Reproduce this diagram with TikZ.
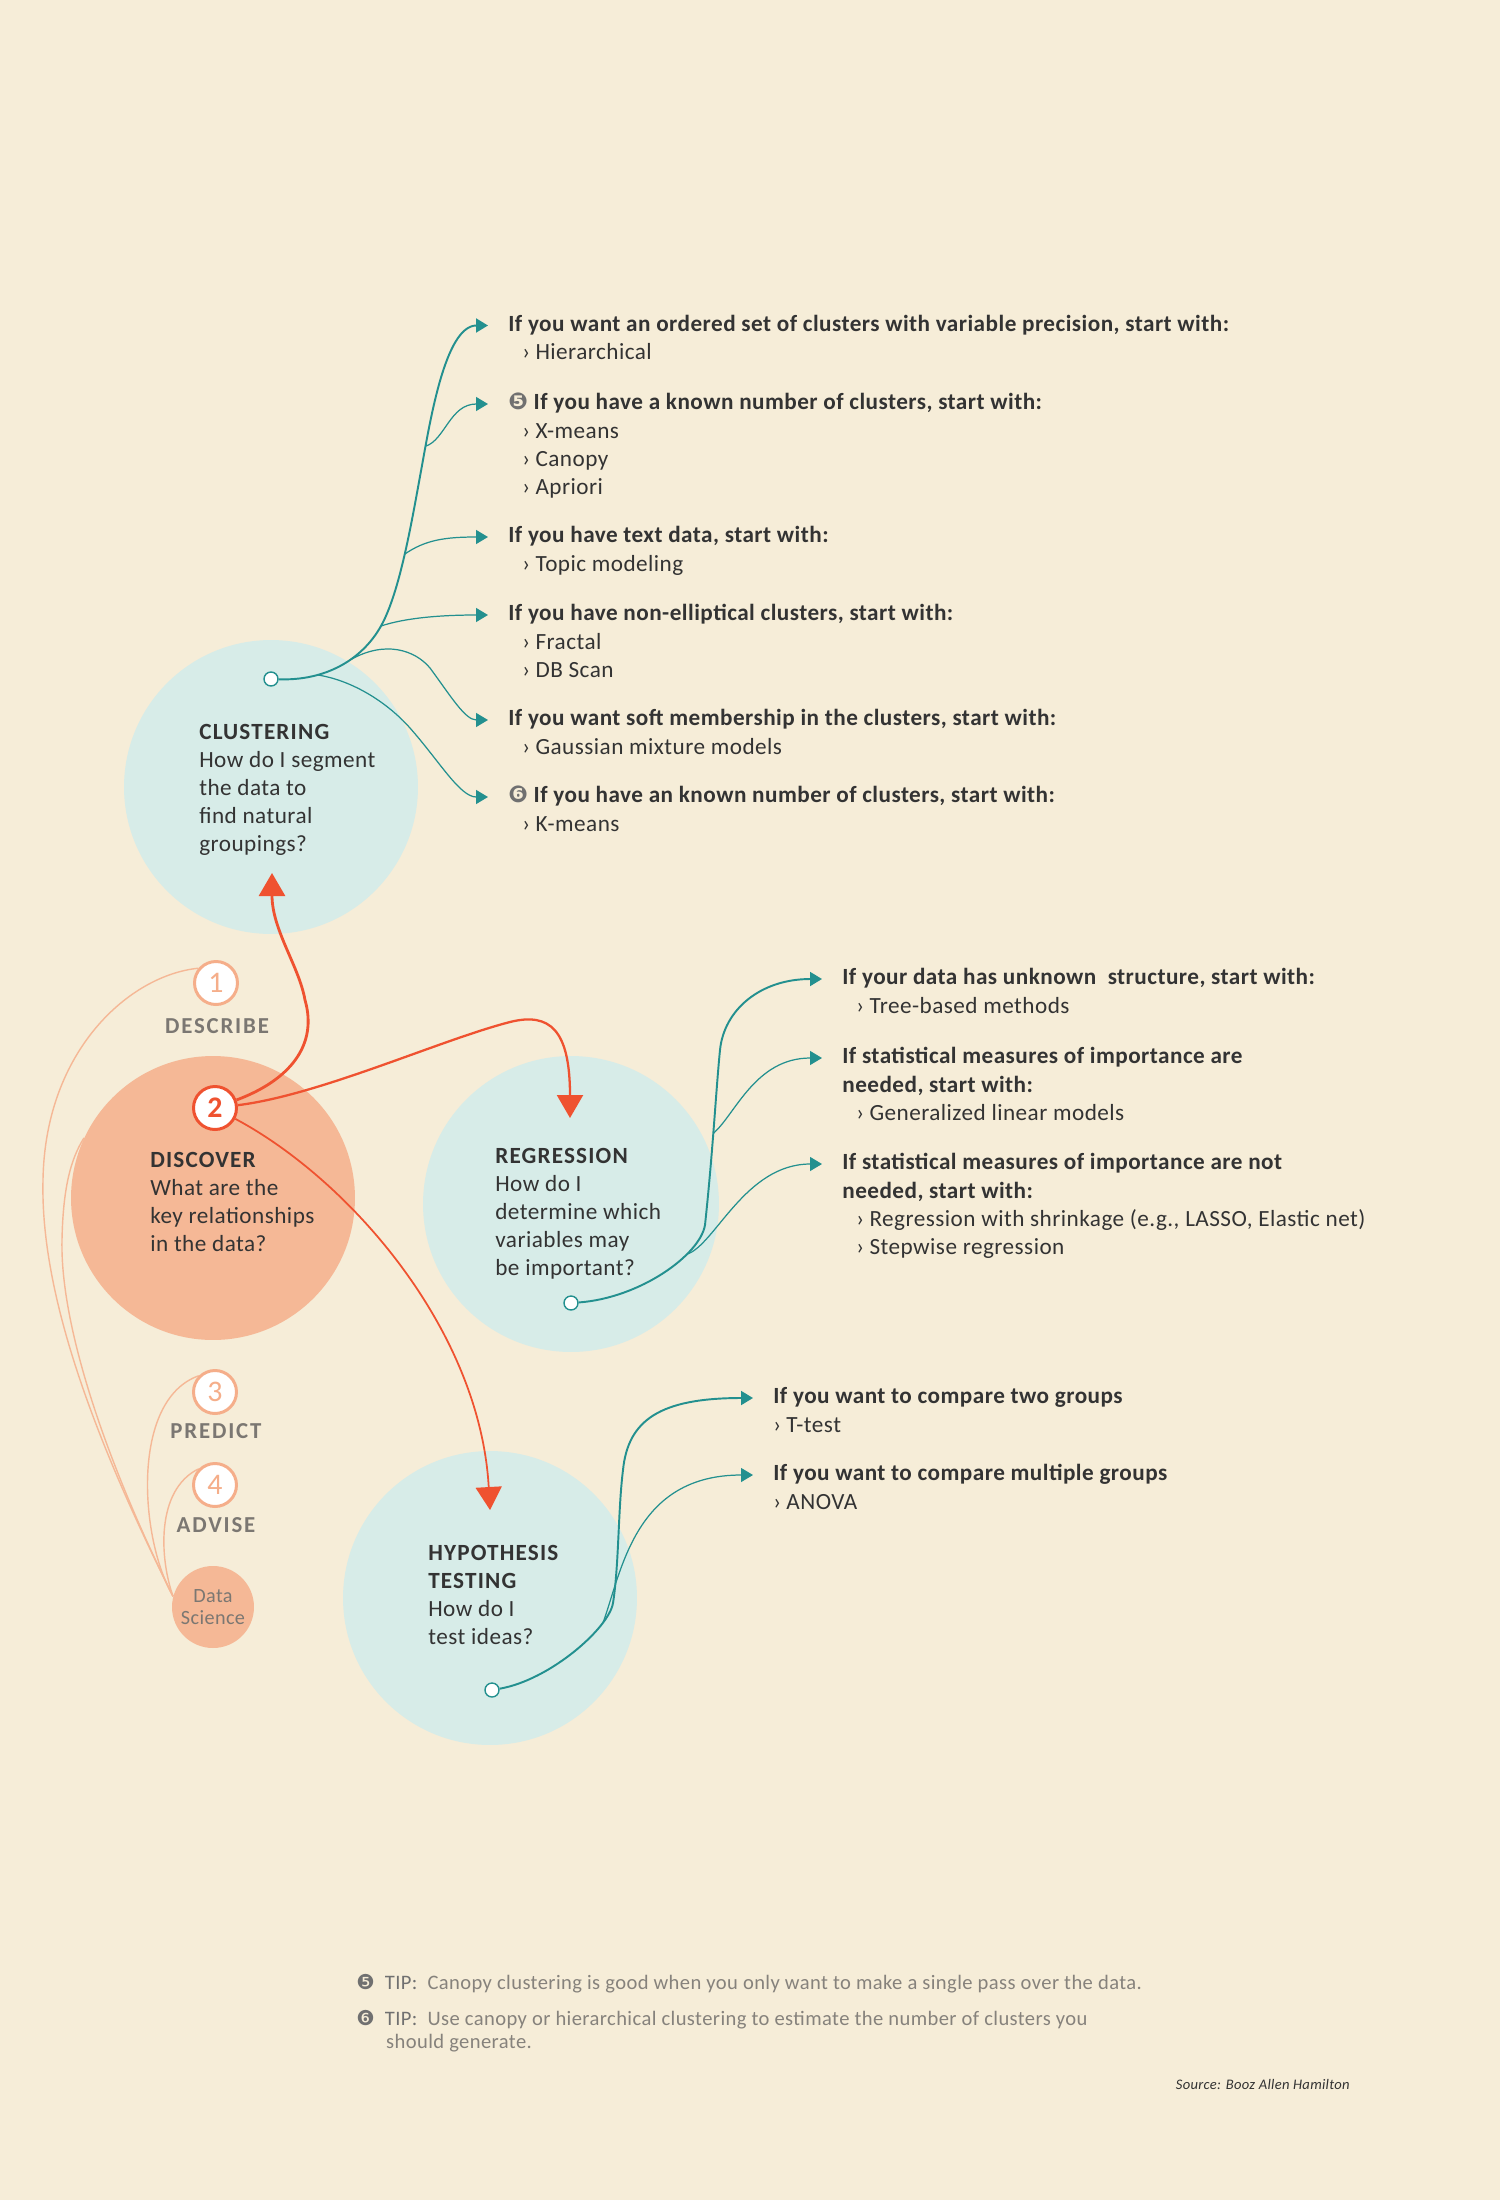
\documentclass[tikz,border=0pt]{standalone}
\usepackage{fontspec}
\setmainfont[LetterSpace=2]{Carlito}
\newfontfamily\headfont[LetterSpace=5]{Carlito}
\newfontfamily\labelfont[LetterSpace=8]{Carlito}
\newfontfamily\symfont{DejaVu Sans}
\usetikzlibrary{arrows.meta,backgrounds}
\definecolor{paper}{HTML}{F6EDD8}
\definecolor{mint}{HTML}{D7ECE8}
\definecolor{salmon}{HTML}{F5B896}
\definecolor{ring}{HTML}{F5AE8A}
\definecolor{redline}{HTML}{EF5230}
\definecolor{tealline}{HTML}{23908F}
\definecolor{ink}{HTML}{333333}
\definecolor{stagegray}{HTML}{7B7772}
\definecolor{tipgray}{HTML}{707070}
\definecolor{footgray}{HTML}{86827C}
\newcommand{\entryfont}{\fontsize{13.2}{15.9}\selectfont}
\newcommand{\pick}[2][8pt]{\strut\hspace*{#1}›\hspace{3pt}#2}
\newcommand{\head}[1]{\strut{\headfont\bfseries #1}}
\newcommand{\tipnum}[1]{{\symfont\color{tipgray}#1}}
\tikzset{%
    topic/.style = {circle, fill=mint, inner sep=0pt},
    hub/.style = {circle, draw=tealline, fill=white, line width=0.8pt,
        minimum size=0.28cm, inner sep=0pt},
    stagenum/.style = {circle, draw=ring, fill=white, line width=1.7pt,
        minimum size=0.86cm, inner sep=0pt, text=ring,
        font=\fontsize{17}{17}\selectfont},
    stagelabel/.style = {text=stagegray, font=\labelfont\bfseries\fontsize{13}{14}\selectfont},
    cond/.style = {anchor=west, inner xsep=0.4cm, inner ysep=0pt, text=ink,
        font=\entryfont\bfseries, execute at begin node=\strut},
    items/.style = {anchor=north west, inner xsep=0.4cm, inner ysep=0pt,
        align=left, text=ink, font=\entryfont},
    topictext/.style = {anchor=north west, inner sep=0pt, align=left, text=ink,
        font=\entryfont},
    tipnote/.style = {anchor=north west, inner sep=0pt, align=left, text=footgray,
        font=\fontsize{11.7}{13.6}\selectfont},
    trunk/.style = {draw=tealline, line width=1.1pt,
        -{Triangle[length=0.24cm,width=0.28cm]}},
    branch/.style = {trunk, line width=0.7pt},
    flow/.style = {draw=redline, -{Triangle[length=0.46cm,width=0.52cm]}},
    stageline/.style = {draw=salmon, line width=0.8pt}
}

\begin{document}
\begin{tikzpicture}[x=0.02cm, y=-0.02cm]
    \node[topic, minimum size=5.88cm] (clus) at (271,787) {};
    \node[topic, minimum size=5.92cm] (reg) at (571,1204) {};
    \node[topic, minimum size=5.88cm] (hyp) at (490,1598) {};
    \node[circle, fill=salmon, inner sep=0pt, minimum size=5.68cm] (disc) at (213,1198) {};
    \node[circle, fill=salmon, inner sep=0pt, minimum size=1.64cm, align=center,
        text=stagegray, font=\fontsize{11.5}{12.5}\selectfont] (ds) at (213,1607) {Data\\Science};

    \node[stagenum] (d1) at (216,983) {1};
    \node[stagenum, draw=redline, text=redline, font=\fontsize{17}{17}\selectfont\bfseries] (two) at (215,1108) {2};
    \node[stagenum] (d3) at (215,1392) {3};
    \node[stagenum] (d4) at (215,1485) {4};
    \node[stagelabel] (describe) at (217,1026) {DESCRIBE};
    \node[stagelabel] (predict) at (216,1431) {PREDICT};
    \node[stagelabel] (advise) at (216,1525) {ADVISE};

    \node[hub] (cdot) at (271,679) {};
    \node[hub] (rdot) at (571,1303) {};
    \node[hub] (hdot) at (492,1690) {};

    \node[topictext] (clustxt) at (199,720) {\head{CLUSTERING}\\\strut How do I segment\\\strut the data to\\\strut find natural\\\strut groupings?};
    \node[topictext] (disctxt) at (150,1148) {\head{DISCOVER}\\\strut What are the\\\strut key relationships\\\strut in the data?};
    \node[topictext] (regtxt) at (495,1144) {\head{REGRESSION}\\\strut How do I\\\strut determine which\\\strut variables may\\\strut be important?};
    \node[topictext] (hyptxt) at (428,1541) {\head{HYPOTHESIS}\\\head{TESTING}\\\strut How do I\\\strut test ideas?};

    \node[cond] (e1) at (488,325.5) {If you want an ordered set of clusters with variable precision, start with:};
    \node[items] (e1i) at (e1.south west) {\pick{Hierarchical}};
    \node[cond] (e2) at (488,404) {\tipnum{❺}\ If you have a known number of clusters, start with:};
    \node[items] (e2i) at (e2.south west) {\pick{X-means}\\\pick{Canopy}\\\pick{Apriori}};
    \node[cond] (e3) at (488,537) {If you have text data, start with:};
    \node[items] (e3i) at (e3.south west) {\pick{Topic modeling}};
    \node[cond] (e4) at (488,615) {If you have non-elliptical clusters, start with:};
    \node[items] (e4i) at (e4.south west) {\pick{Fractal}\\\pick{DB Scan}};
    \node[cond] (e5) at (488,720) {If you want soft membership in the clusters, start with:};
    \node[items] (e5i) at (e5.south west) {\pick{Gaussian mixture models}};
    \node[cond] (e6) at (488,797) {\tipnum{❻}\ If you have an known number of clusters, start with:};
    \node[items] (e6i) at (e6.south west) {\pick{K-means}};

    \node[cond] (r1) at (822,979) {If your data has unknown\ \ structure, start with:};
    \node[items] (r1i) at (r1.south west) {\pick{Tree-based methods}};
    \node[cond] (r2) at (822,1058) {If statistical measures of importance are};
    \node[items] (r2i) at (r2.south west) {\strut{\bfseries needed, start with:}\\\pick{Generalized linear models}};
    \node[cond] (r3) at (822,1164) {If statistical measures of importance are not};
    \node[items] (r3i) at (r3.south west) {\strut{\bfseries needed, start with:}\\\pick{Regression with shrinkage (e.g., LASSO, Elastic net)}\\\pick{Stepwise regression}};

    \node[cond] (h1) at (753,1398) {If you want to compare two groups};
    \node[items] (h1i) at (h1.south west) {\pick[0pt]{T-test}};
    \node[cond] (h2) at (753,1475) {If you want to compare multiple groups};
    \node[items] (h2i) at (h2.south west) {\pick[0pt]{ANOVA}};

    \node[tipnote] (tip5) at (356,1972) {\strut\tipnum{❺}\ \ {\color{tipgray}TIP:}\ \ Canopy clustering is good when you only want to make a single pass over the data.};
    \node[tipnote] (tip6) at (356,2008) {\strut\tipnum{❻}\ \ {\color{tipgray}TIP:}\ \ Use canopy or hierarchical clustering to estimate the number of clusters you\\\strut\hspace*{17pt}should generate.};
    \node[anchor=east, inner sep=0pt, text=ink, font=\fontsize{8.3}{9}\selectfont\itshape] (source) at (1350,2084) {Source: Booz Allen Hamilton};

    \coordinate (clusIn) at (272,873);
    \coordinate (regIn) at (570,1118);
    \coordinate (hypIn) at (490,1510);

    \begin{scope}[on background layer]
        \fill[paper] (0,0) rectangle (1500,2200);
        \draw[stageline] (ds.165) .. controls (100,1450) and (40,1300) .. (43,1180)
            .. controls (45,1050) and (130,975) .. (d1.140);
        \draw[stageline] (ds.165) .. controls (110,1470) and (60,1330) .. (62,1240)
            .. controls (63,1190) and (70,1160) .. (disc.155);
        \draw[stageline] (ds.165) .. controls (140,1540) and (130,1400) .. (d3.135);
        \draw[stageline] (ds.165) .. controls (160,1560) and (155,1490) .. (d4.135);
    \end{scope}

    \draw[trunk] (cdot) .. controls (325,681) and (362,660) .. (381,626) coordinate (k4)
        coordinate[pos=0.3] (k6) coordinate[pos=0.6] (k5)
        .. controls (400,592) and (412,520) .. (421,471) coordinate[pos=0.5] (k3)
        .. controls (430,422) and (445,325.5) .. (e1.west) coordinate[pos=0.15] (k2);
    \draw[branch] (k2) .. controls (445,440) and (450,404) .. (e2.west);
    \draw[branch] (k3) .. controls (425,540) and (445,537) .. (e3.west);
    \draw[branch] (k4) .. controls (405,618) and (440,615) .. (e4.west);
    \draw[branch] (k5) .. controls (385,640) and (415,650) .. (430,668)
        .. controls (450,695) and (465,720) .. (e5.west);
    \draw[branch] (k6) .. controls (350,680) and (385,700) .. (410,728)
        .. controls (440,762) and (460,797) .. (e6.west);

    \draw[trunk] (rdot) .. controls (640,1298) and (700,1255) .. (705,1225) coordinate[pos=0.7] (q3)
        .. controls (713,1150) and (716,1090) .. (720,1050) coordinate[pos=0.45] (q2)
        .. controls (724,1010) and (760,979) .. (r1.west);
    \draw[branch] (q2) .. controls (735,1115) and (755,1058) .. (r2.west);
    \draw[branch] (q3) .. controls (715,1245) and (745,1164) .. (r3.west);

    \draw[trunk] (hdot) .. controls (550,1680) and (609,1628) .. (613,1603) coordinate[pos=0.78] (p2)
        .. controls (619,1565) and (618,1510) .. (623,1470)
        .. controls (628,1420) and (660,1398) .. (h1.west);
    \draw[branch] (p2) .. controls (622,1570) and (635,1475) .. (h2.west);

    \draw[flow, line width=1.6pt] (two) .. controls (290,1080) and (318,1045) .. (305,1000)
        .. controls (299,966) and (272,930) .. (clusIn);
    \draw[flow, line width=1.3pt] (two) .. controls (320,1095) and (440,1040) .. (510,1022)
        .. controls (550,1012) and (570,1030) .. (regIn);
    \draw[flow, line width=1pt] (two) .. controls (350,1180) and (480,1330) .. (hypIn);
\end{tikzpicture}
\end{document}
